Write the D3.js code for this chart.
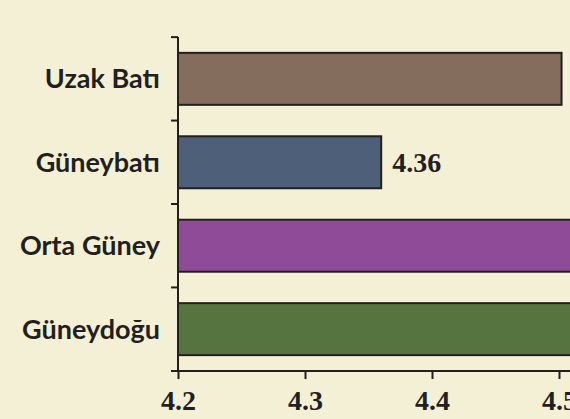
<!DOCTYPE html>
<html lang="tr">
<head>
    <meta charset="UTF-8">
    <title>Bölgeler</title>
    <script src="https://cdn.jsdelivr.net/npm/d3@7"></script>
    <style>
        body {
            margin: 0;
            background-color: #f3f0d6;
            overflow: hidden;
        }
        svg { display: block; }
        .cat-label {
            font-family: 'Lato', sans-serif;
            font-weight: bold;
            font-size: 27px;
            fill: #231f20;
        }
        .num-label {
            font-family: 'Liberation Serif', 'DejaVu Serif', serif;
            font-weight: bold;
            font-size: 28px;
            fill: #231f20;
        }
    </style>
</head>
<body>
    <svg></svg>
    <script>
        const categories = ["Uzak Batı", "Güneybatı", "Orta Güney", "Güneydoğu"];
        const values = [4.502, 4.36, 4.62, 4.6];
        const colors = ["#846d5c", "#4e6079", "#904b98", "#55743f"];
        const xTicks = [4.2, 4.3, 4.4, 4.5];
        const shownLabels = ["Güneybatı"];

        const width = 570, height = 419;
        const svg = d3.select("svg").attr("width", width).attr("height", height);

        const x = d3.scaleLinear().domain([4.2, 4.5]).range([178, 559]);
        const y = d3.scaleBand()
            .domain(categories)
            .range([37, 371])
            .paddingInner(0.377)
            .paddingOuter(0.19);

        // bars
        svg.selectAll(".bar")
            .data(categories)
            .enter().append("rect")
            .attr("class", "bar")
            .attr("x", x(4.2))
            .attr("y", d => y(d))
            .attr("width", (d, i) => x(values[i]) - x(4.2))
            .attr("height", y.bandwidth())
            .attr("fill", (d, i) => colors[i])
            .attr("stroke", "#231f20")
            .attr("stroke-width", 2);

        // value label
        svg.selectAll(".val")
            .data(categories.filter(c => shownLabels.includes(c)))
            .enter().append("text")
            .attr("class", "num-label")
            .attr("x", d => x(values[categories.indexOf(d)]) + 11)
            .attr("y", d => y(d) + y.bandwidth() / 2)
            .attr("dy", "0.35em")
            .text(d => values[categories.indexOf(d)].toFixed(2));

        // category labels
        svg.selectAll(".cat")
            .data(categories)
            .enter().append("text")
            .attr("class", "cat-label")
            .attr("x", 160)
            .attr("y", d => y(d) + y.bandwidth() / 2)
            .attr("dy", "0.35em")
            .attr("text-anchor", "end")
            .text(d => d);

        // y axis with ticks between bands
        const gap = y.step() * y.paddingInner() / 2;
        const yEdges = categories.map(c => y(c) - gap).concat([371]);
        svg.append("line")
            .attr("x1", 178).attr("x2", 178)
            .attr("y1", 37).attr("y2", 371)
            .attr("stroke", "#231f20").attr("stroke-width", 2);
        svg.selectAll(".ytick")
            .data(yEdges)
            .enter().append("line")
            .attr("x1", 171).attr("x2", 178)
            .attr("y1", d => d).attr("y2", d => d)
            .attr("stroke", "#231f20").attr("stroke-width", 2);

        // x axis
        const xAxis = svg.append("g")
            .attr("transform", "translate(0,371)")
            .call(d3.axisBottom(x).tickValues(xTicks).tickSize(8).tickSizeOuter(0).tickFormat(d3.format(".1f")));
        xAxis.attr("font-family", null).attr("font-size", null);
        xAxis.select(".domain").attr("stroke", "#231f20").attr("stroke-width", 2)
            .attr("d", `M${x(4.2)},0H${width}`);
        xAxis.selectAll(".tick line").attr("stroke", "#231f20").attr("stroke-width", 2);
        xAxis.selectAll(".tick text")
            .attr("class", "num-label")
            .attr("fill", null)
            .attr("y", 0)
            .attr("dy", null)
            .attr("dominant-baseline", "auto")
            .attr("transform", "translate(0,39)");
    </script>
</body>
</html>
